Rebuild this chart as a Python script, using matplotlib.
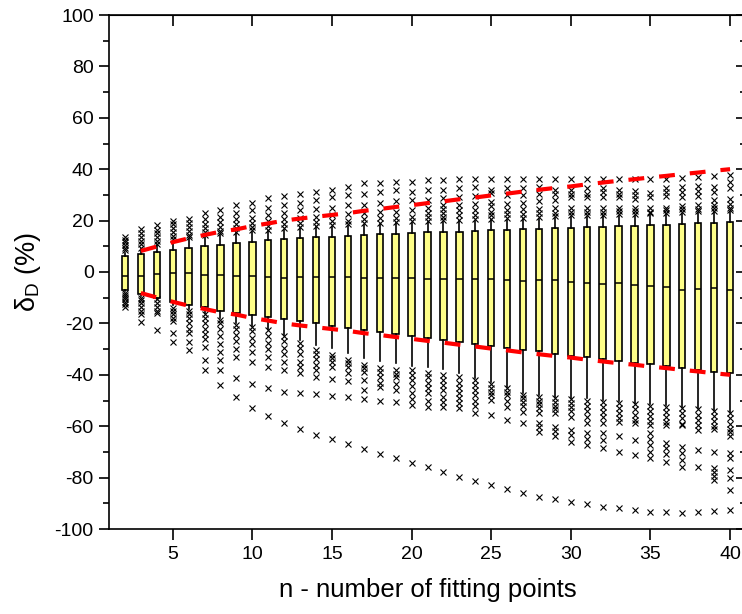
import numpy as np
import matplotlib.pyplot as plt

plt.rcParams['font.family'] = ['Liberation Sans', 'DejaVu Sans']
plt.rcParams['mathtext.fontset'] = 'custom'
plt.rcParams['mathtext.rm'] = 'Liberation Sans'
plt.rcParams['axes.unicode_minus'] = False

# number of fitting points
n_points = list(range(2, 41))

# box statistics (%)
q3 = [6.2, 7.0, 7.8, 8.6, 9.5, 10.0, 10.7, 11.3, 11.8, 12.4, 12.9, 13.3, 13.5,
      13.8, 14.1, 14.3, 14.6, 14.9, 15.2, 15.4, 15.6, 15.7, 16.0, 16.2, 16.3,
      16.6, 16.7, 17.0, 17.0, 17.4, 17.6, 17.8, 18.0, 18.1, 18.4, 18.6, 18.9,
      19.2, 19.5]
median = [-1.4, -1.4, -0.8, -0.5, -0.5, -1.2, -1.3, -1.7, -1.6, -2.0, -2.2,
          -2.1, -2.1, -2.1, -2.1, -2.2, -2.3, -2.4, -2.4, -2.6, -2.6, -2.8,
          -2.8, -2.9, -3.2, -3.4, -3.3, -3.3, -3.7, -4.4, -4.5, -4.2, -5.1,
          -5.5, -6.0, -7.0, -6.6, -6.4, -7.0]
q1 = [-7.1, -8.7, -10.1, -11.8, -12.7, -13.7, -15.0, -16.1, -16.7, -17.6,
      -18.3, -19.2, -20.0, -20.9, -21.7, -22.4, -23.4, -24.1, -24.9, -25.7,
      -26.5, -27.4, -28.0, -28.7, -29.4, -30.4, -30.9, -31.8, -32.5, -33.2,
      -34.0, -34.6, -35.3, -35.9, -36.7, -37.5, -38.1, -38.8, -39.4]
whisker_hi = [7.5, 9.0, 10.5, 12.0, 13.0, 13.5, 14.5, 15.0, 15.5, 16.0, 16.5,
              17.0, 17.4, 17.7, 18.0, 18.3, 18.6, 18.9, 19.1, 19.3, 19.5, 19.7,
              19.9, 20.1, 20.3, 20.5, 20.7, 21.0, 21.3, 21.5, 21.6, 21.8, 21.9,
              22.1, 22.4, 22.7, 23.0, 23.2, 23.5]
whisker_lo = [-7.5, -9.5, -10.5, -13.0, -14.5, -16.0, -18.0, -20.0, -21.0,
              -22.0, -24.5, -26.5, -28.5, -29.7, -31.6, -33.6, -34.5, -35.5,
              -36.4, -36.8, -37.8, -39.4, -41.1, -42.7, -44.6, -47.2, -47.9,
              -48.5, -49.2, -49.2, -49.8, -50.2, -50.8, -51.4, -51.7, -52.4,
              -53.0, -53.7, -54.3]

# outliers above the upper whisker
fliers_top = [
    [8.6, 9.5, 10.5, 11.5, 12.5, 13.6],
    [9.5, 10.8, 12.0, 13.5, 15.0, 16.7],
    [11.0, 12.0, 13.5, 15.0, 16.5, 18.3],
    [13.0, 14.0, 15.5, 17.0, 18.5, 19.8],
    [13.5, 14.5, 16.0, 17.5, 19.0, 20.6],
    [14.5, 15.5, 17.0, 18.5, 20.5, 22.9],
    [15.1, 16.0, 17.5, 19.5, 21.5, 24.1],
    [15.7, 17.0, 18.5, 20.5, 23.0, 26.1],
    [16.3, 17.5, 19.0, 21.0, 24.0, 26.8],
    [16.5, 18.0, 20.0, 22.0, 25.0, 28.7],
    [17.0, 18.5, 20.5, 23.0, 26.0, 29.5],
    [17.5, 19.0, 21.0, 24.0, 27.0, 30.2],
    [18.0, 19.5, 21.5, 24.5, 28.0, 31.3],
    [18.3, 20.0, 22.0, 25.0, 29.0, 31.9],
    [18.6, 20.0, 22.5, 26.0, 30.0, 33.0],
    [19.0, 20.5, 23.0, 26.0, 30.5, 34.5],
    [19.2, 21.0, 23.5, 27.0, 31.0, 34.5],
    [19.5, 21.0, 23.5, 27.5, 32.0, 35.1],
    [19.8, 21.5, 24.0, 28.0, 31.0, 35.1],
    [20.0, 21.5, 23.0, 25.0, 28.0, 32.0, 35.8],
    [20.2, 21.5, 23.0, 24.5, 26.0, 28.7, 31.9, 35.8],
    [20.4, 22.0, 24.0, 26.0, 29.0, 32.5, 36.0],
    [20.6, 22.0, 24.0, 26.5, 29.5, 33.0, 36.0],
    [20.8, 22.0, 23.5, 25.5, 27.4, 30.6, 31.9, 36.1],
    [21.0, 22.5, 24.0, 26.5, 30.0, 32.5, 36.1],
    [21.2, 22.5, 24.5, 27.0, 30.0, 32.5, 36.1],
    [21.4, 23.0, 24.5, 27.5, 30.5, 33.0, 36.1],
    [21.6, 23.0, 25.0, 28.0, 30.5, 32.0, 36.1],
    [22.0, 23.4, 24.9, 29.2, 30.5, 31.9, 36.1],
    [22.2, 23.5, 25.0, 29.0, 30.5, 32.5, 36.1],
    [22.3, 23.5, 25.0, 29.0, 31.0, 32.5, 36.1],
    [22.5, 23.7, 25.0, 29.0, 30.5, 32.0, 36.1],
    [22.6, 23.8, 25.0, 28.5, 30.0, 31.5, 36.1],
    [22.8, 23.5, 24.8, 29.3, 30.6, 36.1],
    [23.1, 24.0, 25.0, 29.5, 31.0, 32.5, 36.1],
    [23.4, 24.5, 25.5, 29.0, 31.0, 33.0, 36.5],
    [23.7, 24.5, 26.0, 29.5, 31.5, 33.5, 37.0],
    [23.9, 25.0, 26.0, 28.0, 31.0, 33.0, 37.5],
    [24.0, 25.0, 26.5, 28.3, 32.8, 35.0, 37.9],
]

# outliers below the lower whisker
fliers_bottom = [
    [-8.0, -8.8, -9.6, -10.5, -11.5, -12.5, -13.6],
    [-10.0, -11.0, -12.0, -13.5, -15.0, -16.5, -19.5],
    [-10.6, -12.0, -13.5, -15.0, -16.1, -22.6],
    [-14.0, -15.0, -16.5, -18.0, -19.2, -23.7, -27.1],
    [-15.0, -16.5, -18.0, -20.0, -22.0, -23.7, -27.4, -30.5],
    [-16.5, -18.0, -20.0, -22.0, -24.0, -26.0, -29.0, -34.2, -38.1],
    [-18.5, -20.0, -22.0, -25.0, -28.0, -31.0, -34.2, -38.1, -44.0],
    [-20.5, -22.0, -24.5, -27.0, -30.0, -33.0, -41.4, -48.5],
    [-21.5, -23.0, -25.5, -28.0, -31.0, -34.9, -43.7, -52.9],
    [-22.6, -25.0, -27.5, -30.0, -33.0, -36.8, -45.3, -56.0],
    [-25.0, -27.0, -29.5, -32.0, -35.0, -38.1, -46.6, -58.9],
    [-27.6, -29.5, -32.0, -35.0, -37.0, -39.4, -47.2, -61.2],
    [-30.4, -32.0, -34.0, -36.0, -38.1, -40.7, -47.5, -63.4],
    [-32.3, -33.5, -35.0, -36.8, -41.8, -48.1, -65.1],
    [-34.2, -35.5, -37.0, -39.3, -42.5, -48.8, -66.9],
    [-36.2, -37.5, -39.0, -42.0, -45.9, -49.4, -68.9],
    [-37.3, -39.0, -41.0, -43.0, -44.7, -50.1, -70.8],
    [-38.0, -39.5, -41.0, -43.5, -46.0, -50.7, -72.4],
    [-38.0, -40.0, -42.0, -44.5, -47.0, -49.5, -51.7, -74.2],
    [-39.4, -41.0, -43.0, -45.0, -47.2, -50.0, -52.4, -76.0],
    [-40.0, -42.0, -44.0, -46.0, -48.5, -50.5, -52.4, -77.8],
    [-41.0, -43.0, -45.0, -47.0, -49.0, -51.0, -53.0, -79.6],
    [-42.0, -44.0, -46.0, -48.0, -50.0, -52.0, -55.0, -81.2],
    [-43.5, -45.0, -46.5, -48.0, -49.8, -55.6, -82.9],
    [-45.0, -46.5, -48.0, -50.0, -52.4, -57.6, -84.4],
    [-47.8, -49.0, -50.5, -52.0, -54.3, -58.9, -86.1],
    [-48.5, -50.0, -51.5, -53.0, -55.0, -58.9, -60.5, -62.1, -87.4],
    [-49.0, -50.5, -52.0, -53.5, -55.0, -60.2, -62.0, -64.0, -88.3],
    [-49.5, -51.0, -52.5, -54.0, -56.3, -61.5, -63.5, -66.0, -89.5],
    [-50.0, -52.0, -54.0, -56.5, -58.9, -62.8, -65.0, -67.3, -90.4],
    [-50.5, -52.5, -54.5, -56.5, -58.9, -62.8, -65.5, -68.6, -91.4],
    [-51.0, -53.0, -55.0, -57.0, -58.2, -64.0, -69.9, -92.0],
    [-51.5, -53.5, -55.5, -57.5, -58.9, -65.3, -71.2, -92.6],
    [-52.0, -54.0, -56.0, -58.0, -59.5, -62.8, -65.0, -67.5, -70.0, -72.5, -93.3],
    [-52.5, -54.5, -56.5, -58.5, -59.5, -66.6, -68.5, -71.0, -73.8, -93.3],
    [-53.0, -55.0, -57.0, -59.0, -59.5, -68.0, -70.5, -73.0, -75.7, -93.6],
    [-53.5, -55.5, -57.5, -59.5, -61.5, -69.2, -75.7, -93.2],
    [-54.0, -56.0, -58.0, -60.0, -61.0, -69.9, -76.4, -78.0, -79.5, -80.9, -92.9],
    [-55.0, -57.0, -59.0, -61.0, -62.1, -64.0, -70.5, -72.5, -77.0, -80.3, -84.8, -92.6],
]

# red dashed envelope
env_n = list(range(3, 41))
env_upper = [8.2, 9.9, 11.6, 13.1, 14.4, 15.7, 16.6, 17.9, 18.9, 20.0, 20.8,
             21.5, 22.2, 22.9, 23.8, 24.5, 25.3, 26.0, 26.8, 27.5, 28.3, 29.0,
             29.8, 30.5, 31.3, 32.0, 32.7, 33.3, 34.1, 34.8, 35.5, 36.1, 36.8,
             37.4, 38.1, 38.7, 39.4, 40.0]
env_lower = [-8.2, -9.9, -11.6, -13.1, -14.4, -15.7, -16.6, -17.9, -18.9,
             -20.0, -20.8, -21.5, -22.2, -22.9, -23.8, -24.5, -25.3, -26.0,
             -26.8, -27.5, -28.3, -29.0, -29.8, -30.5, -31.3, -32.0, -32.7,
             -33.3, -34.1, -34.8, -35.5, -36.1, -36.8, -37.4, -38.1, -38.7,
             -39.4, -40.0]

stats = []
for i in range(len(n_points)):
    stats.append(dict(med=median[i], q1=q1[i], q3=q3[i],
                      whislo=whisker_lo[i], whishi=whisker_hi[i],
                      fliers=fliers_top[i] + fliers_bottom[i]))

fig = plt.figure(figsize=(7.42, 6.14), dpi=100)
ax = fig.add_axes([109 / 742, 85 / 614, 637 / 742, 514 / 614])

ax.bxp(stats, positions=n_points, widths=0.4, patch_artist=True,
       showcaps=False, manage_ticks=False,
       boxprops=dict(facecolor='#ffff88', edgecolor='black', linewidth=1.2),
       medianprops=dict(color='black', linewidth=1.1),
       whiskerprops=dict(color='black', linewidth=1.2),
       flierprops=dict(marker='x', markersize=4.8, markeredgecolor='black',
                       markeredgewidth=0.8, linestyle='none'))

ax.plot(env_n, env_upper, color='red', linewidth=3, dashes=(3.8, 3.6),
        dash_capstyle='butt', zorder=5)
ax.plot(env_n, env_lower, color='red', linewidth=3, dashes=(3.8, 3.6),
        dash_capstyle='butt', zorder=5)

ax.set_xlim(1, 41)
ax.set_ylim(-100, 100)
ax.set_xticks([5, 10, 15, 20, 25, 30, 35, 40])
ax.set_yticks(np.arange(-100, 101, 20))
ax.set_yticks(np.arange(-90, 100, 20), minor=True)

for s in ax.spines.values():
    s.set_linewidth(1.2)

ax.tick_params(axis='both', which='major', labelsize=14, width=1.2, pad=4)
ax.tick_params(axis='y', which='major', direction='out', length=7)
ax.tick_params(axis='y', which='minor', direction='out', length=4, width=1.2)
ax.tick_params(axis='x', which='major', direction='out', length=8)
ax.tick_params(axis='x', which='minor', bottom=False)

# top and right mirror ticks pointing inward
top = ax.secondary_xaxis('top')
top.set_xticks([5, 10, 15, 20, 25, 30, 35, 40])
top.tick_params(direction='in', length=8, width=1.2, labeltop=False)
right = ax.secondary_yaxis('right')
right.set_yticks(np.arange(-100, 101, 20))
right.set_yticks(np.arange(-90, 100, 20), minor=True)
right.tick_params(which='major', direction='in', length=7, width=1.2, labelright=False)
right.tick_params(which='minor', direction='in', length=4, width=1.2)

ax.set_xlabel('n - number of fitting points', fontsize=18.5, labelpad=11)
ax.set_ylabel('δ$_\\mathregular{D}$ (%)', fontsize=19.5, labelpad=8)

fig.savefig('out.png', dpi=100)
